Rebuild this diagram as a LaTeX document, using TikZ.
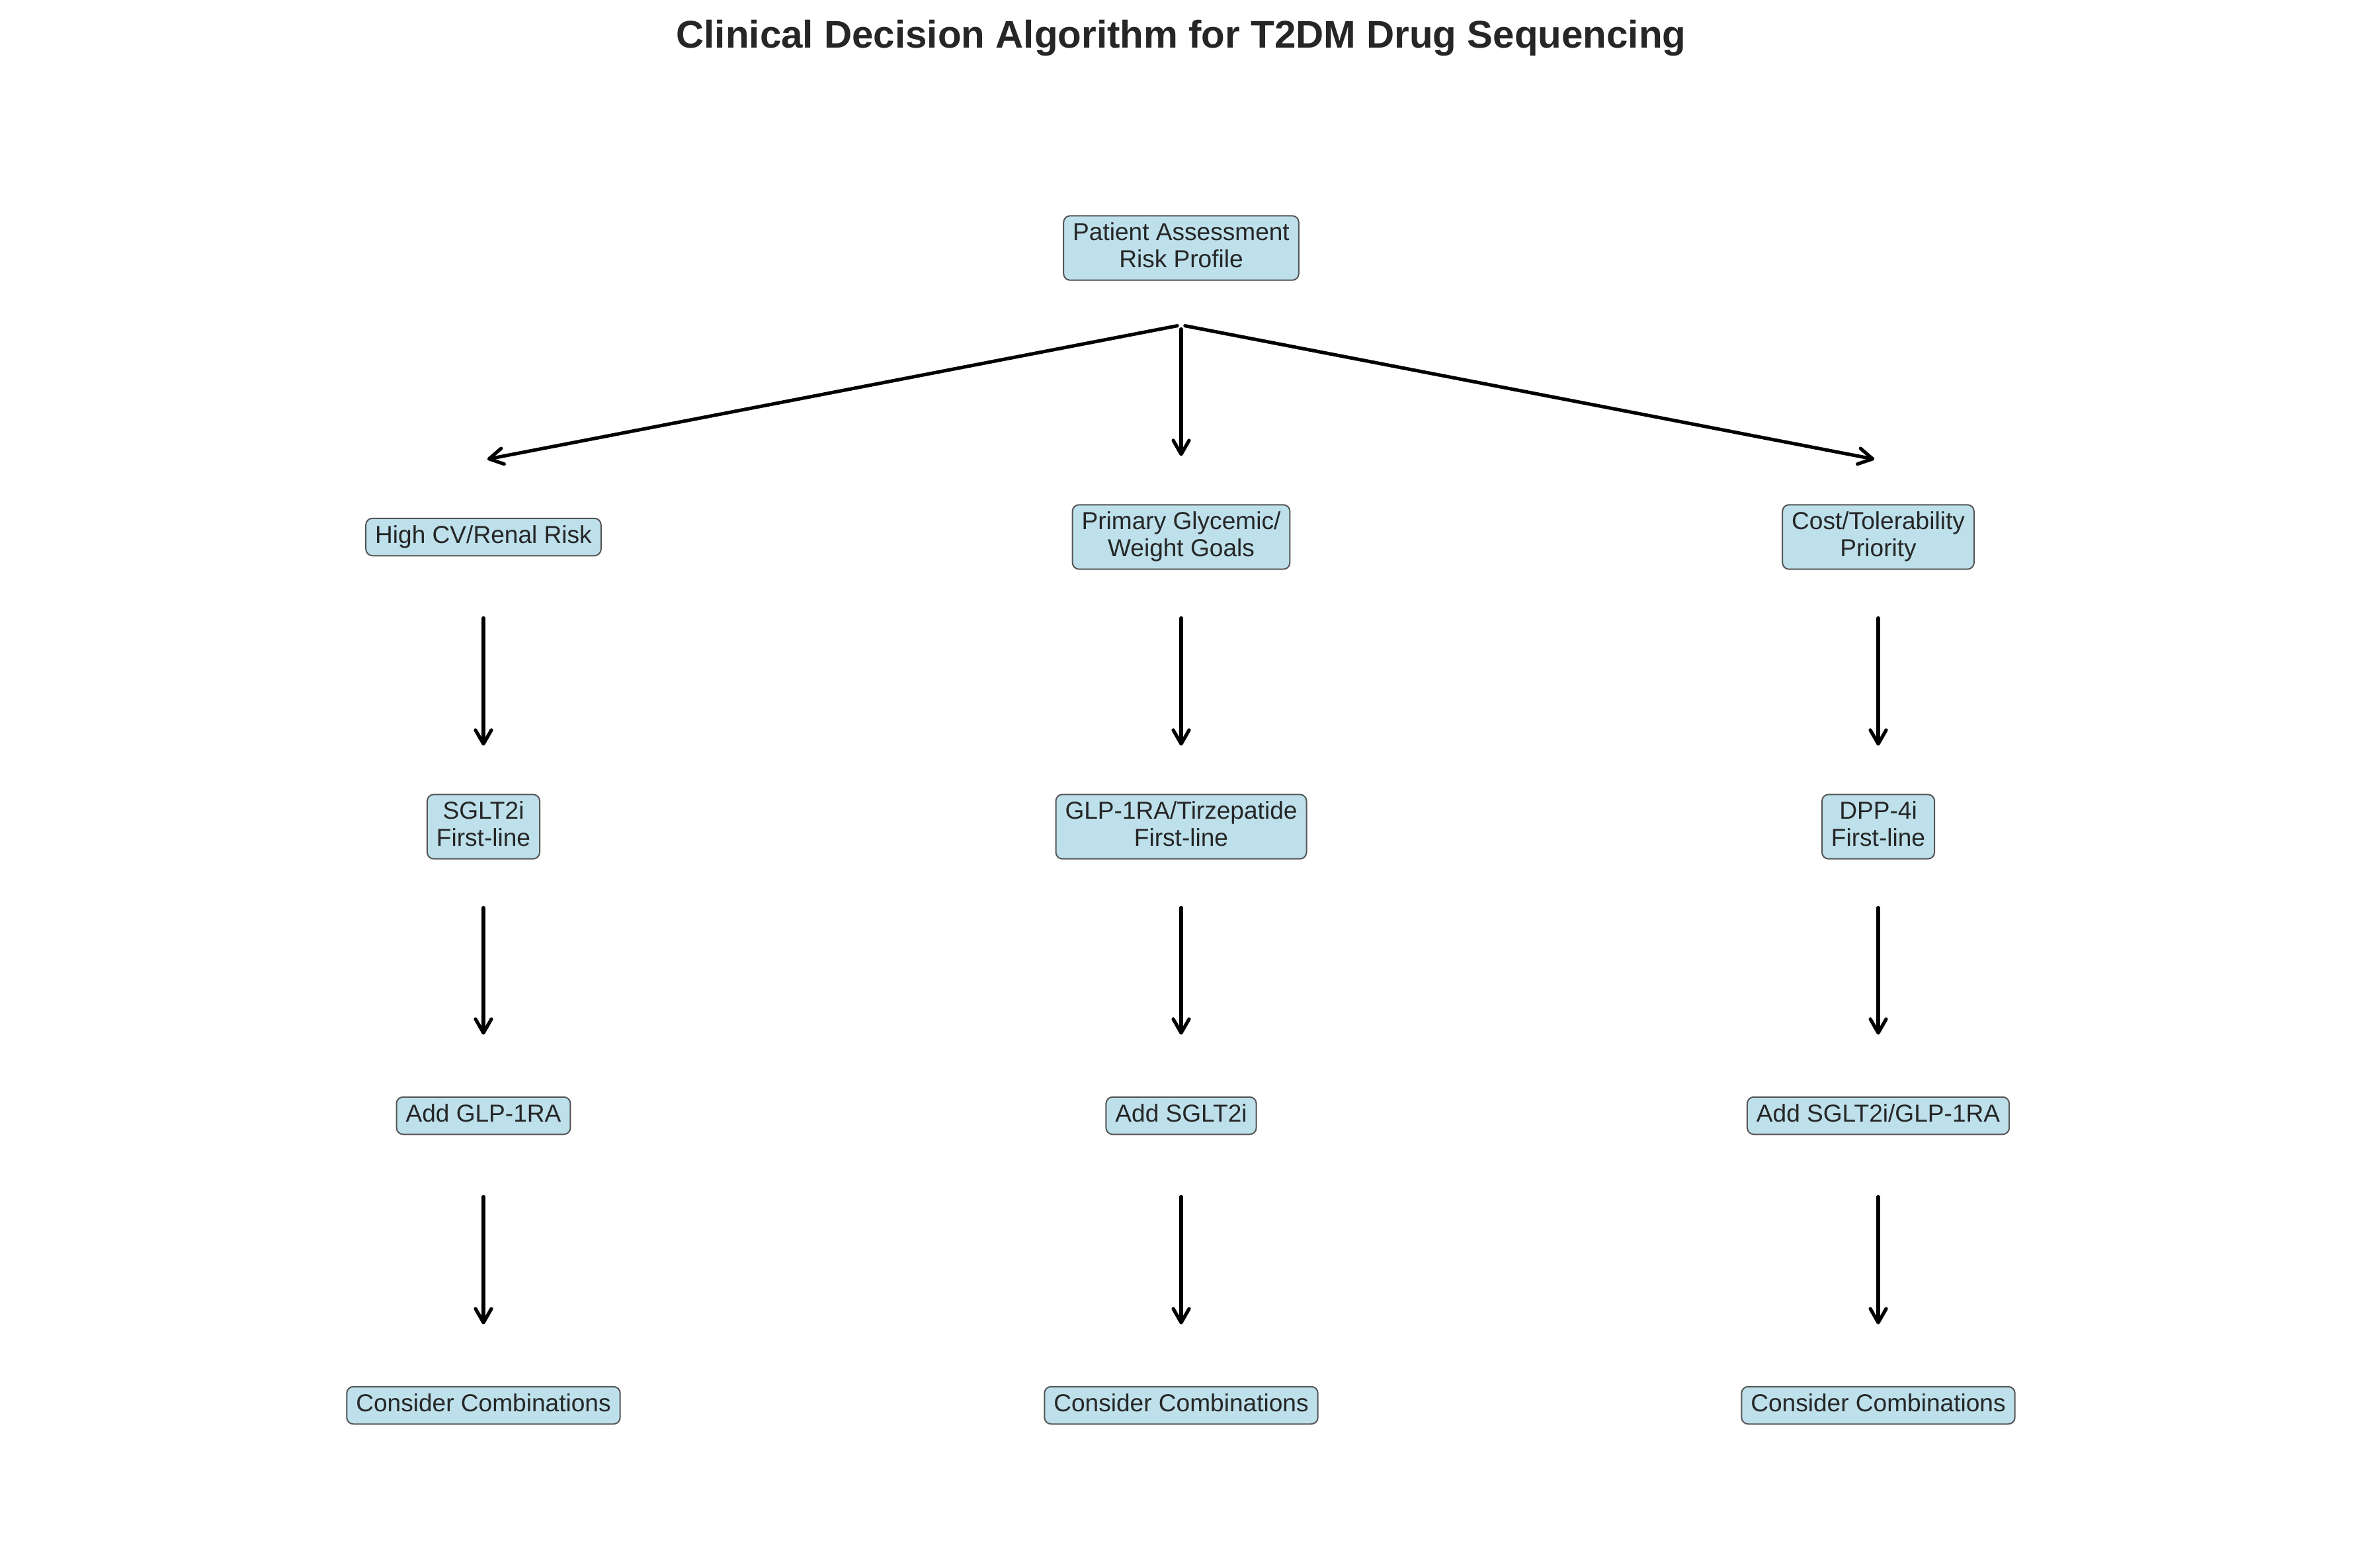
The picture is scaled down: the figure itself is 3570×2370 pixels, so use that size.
\documentclass[tikz,border=0pt]{standalone}
\usepackage{fontspec}
\setmainfont{Liberation Sans}
\usetikzlibrary{arrows.meta,calc}
\definecolor{txt}{HTML}{262626}
\definecolor{boxfill}{RGB}{189,224,235}
\definecolor{boxedge}{RGB}{85,85,85}
\newcommand{\st}{\rule[-0.9mm]{0pt}{3.65mm}}
\tikzset{
  box/.style={draw=boxedge, line width=0.2mm, fill=boxfill, rounded corners=1mm,
    align=center, text=txt, font=\fontsize{10.55pt}{11.65pt}\selectfont,
    inner xsep=1.4mm, inner ysep=1.0mm},
  flow/.style={line width=0.52mm, line cap=round, black,
    -{Straight Barb[length=2.1mm,width=2.4mm,line cap=round,line join=round]},
    shorten <=0.6mm, shorten >=0.6mm},
}
\begin{document}
\begin{tikzpicture}[x=0.1mm,y=-0.1mm]
\useasboundingbox (0,0) rectangle (3570,2370);
\node[anchor=base, text=txt, font=\fontsize{16.6pt}{20pt}\selectfont\bfseries] (title) at (1786,72) {Clinical Decision Algorithm for T2DM Drug Sequencing};

\node[box] (top) at (1786,375) {\st Patient Assessment\\\st Risk Profile};

\node[box] (a1) at (731,812) {\st High CV/Renal Risk};
\node[box] (b1) at (1786,812) {\st Primary Glycemic/\\\st Weight Goals};
\node[box] (c1) at (2840,812) {\st Cost/Tolerability\\\st Priority};

\node[box] (a2) at (731,1250) {\st SGLT2i\\\st First-line};
\node[box] (b2) at (1786,1250) {\st GLP-1RA/Tirzepatide\\\st First-line};
\node[box] (c2) at (2840,1250) {\st DPP-4i\\\st First-line};

\node[box] (a3) at (731,1687) {\st Add GLP-1RA};
\node[box] (b3) at (1786,1687) {\st Add SGLT2i};
\node[box] (c3) at (2840,1687) {\st Add SGLT2i/GLP-1RA};

\node[box] (a4) at (731,2125) {\st Consider Combinations};
\node[box] (b4) at (1786,2125) {\st Consider Combinations};
\node[box] (c4) at (2840,2125) {\st Consider Combinations};

\foreach \c in {a1,b1,c1}
  \draw[flow] ($(top.center)+(0,116.5)$) -- ($(\c.center)+(0,-116.5)$);

\foreach \col in {a,b,c}{
  \draw[flow] ($(\col1.center)+(0,116.5)$) -- ($(\col2.center)+(0,-116.5)$);
  \draw[flow] ($(\col2.center)+(0,116.5)$) -- ($(\col3.center)+(0,-116.5)$);
  \draw[flow] ($(\col3.center)+(0,116.5)$) -- ($(\col4.center)+(0,-116.5)$);
}
\end{tikzpicture}
\end{document}
